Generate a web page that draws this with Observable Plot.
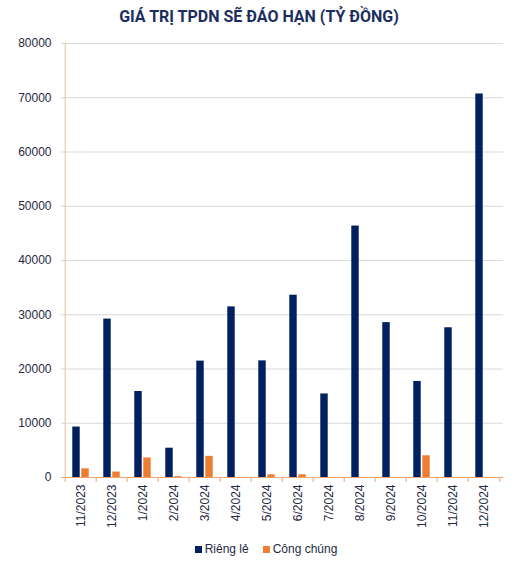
<!DOCTYPE html>
<html>
<head>
<meta charset="utf-8">
<script src="https://cdn.jsdelivr.net/npm/d3@7"></script>
<script src="https://cdn.jsdelivr.net/npm/@observablehq/plot@0.6"></script>
<style>
  html, body { margin: 0; padding: 0; background: #fff; }
  body { width: 532px; font-family: "Liberation Sans", Arial, sans-serif; }
  #title { height: 32px; line-height: 34px; text-align: center; font-family: Roboto, sans-serif; font-weight: 700; font-size: 16px; color: #1c2e5e; padding-right: 14px; box-sizing: border-box; }
  #legend { height: 20px; display: flex; justify-content: center; align-items: center; gap: 14px; font-size: 12px; color: #1f2a44; }
  #legend span.item { display: flex; align-items: center; gap: 3px; }
  #legend span.sw { display: inline-block; width: 7px; height: 7px; }
</style>
</head>
<body>
<div id="title">GIÁ TRỊ TPDN SẼ ĐÁO HẠN (TỶ ĐỒNG)</div>
<div id="chart"></div>
<div id="legend"></div>
<script>
const months = ["11/2023", "12/2023", "1/2024", "2/2024", "3/2024", "4/2024", "5/2024", "6/2024", "7/2024", "8/2024", "9/2024", "10/2024", "11/2024", "12/2024"];
const seriesNames = ["Riêng lẻ", "Công chúng"];
const riengLe = [9300, 29200, 15850, 5400, 21450, 31450, 21500, 33600, 15400, 46350, 28550, 17700, 27600, 70700];
const congChung = [1600, 1000, 3600, 150, 3900, 0, 500, 500, 0, 0, 0, 4000, 0, 0];
const yTicks = [0, 10000, 20000, 30000, 40000, 50000, 60000, 70000, 80000];
const colors = ["#002060", "#ed7d31"];

const width = 532, marginLeft = 61, marginRight = 29;
const step = (width - marginLeft - marginRight) / months.length;
const barW = 8;
const inset = (step - barW) / 2;

const rows1 = months.map((m, i) => ({month: m, value: riengLe[i]}));
const rows2 = months.map((m, i) => ({month: m, value: congChung[i]}));

const chart = Plot.plot({
  width,
  height: 507,
  marginLeft,
  marginRight,
  marginTop: 11,
  marginBottom: 62,
  style: {fontFamily: "'Liberation Sans', Arial, sans-serif", fontSize: "12px", color: "#1f2a44", background: "#fff"},
  x: {domain: months, padding: 0, label: null},
  y: {domain: [0, 80000], label: null},
  marks: [
    Plot.gridY(yTicks, {stroke: "#d9d9d9", strokeOpacity: 1}),
    Plot.barY(rows1, {x: "month", y: "value", fill: colors[0], insetLeft: inset, insetRight: inset, dx: -4.5}),
    Plot.barY(rows2, {x: "month", y: "value", fill: colors[1], insetLeft: inset, insetRight: inset, dx: 4.5}),
    Plot.ruleX([months[0]], {x: d => d, y1: 0, y2: 80000, dx: -step / 2, stroke: "#e8c09a"}),
    Plot.ruleY([0], {stroke: "#f0a36c"}),
    Plot.ruleX(months, {x: d => d, y1: 0, y2: 0, insetBottom: -5, dx: -step / 2, stroke: "#f0a36c"}),
    Plot.ruleX([months[months.length - 1]], {x: d => d, y1: 0, y2: 0, insetBottom: -5, dx: step / 2, stroke: "#f0a36c"}),
    Plot.axisY(yTicks, {tickSize: 0, tickPadding: 10, tickFormat: d => String(d), label: null}),
    Plot.axisX({tickRotate: -90, tickSize: 0, tickPadding: 7, label: null})
  ]
});
document.getElementById("chart").appendChild(chart);

const legend = document.getElementById("legend");
seriesNames.forEach((name, i) => {
  const item = document.createElement("span");
  item.className = "item";
  const sw = document.createElement("span");
  sw.className = "sw";
  sw.style.background = colors[i];
  const t = document.createElement("span");
  t.textContent = name;
  item.appendChild(sw);
  item.appendChild(t);
  legend.appendChild(item);
});
</script>
</body>
</html>
